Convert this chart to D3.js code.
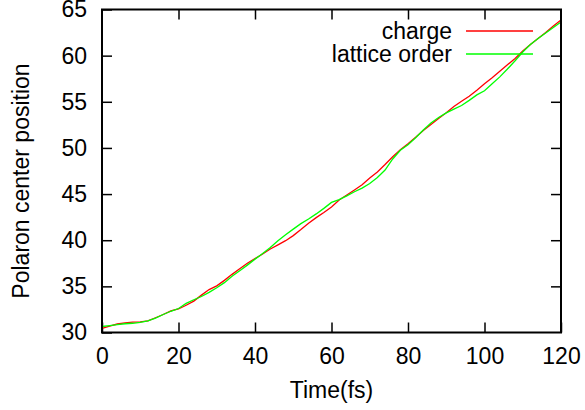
<!DOCTYPE html>
<html>
<head>
<meta charset="utf-8">
<script src="https://cdn.jsdelivr.net/npm/d3@7"></script>
<style>
  body { margin: 0; background: #fff; }
  text { font-family: "Liberation Sans", Arial, sans-serif; fill: #000; }
</style>
</head>
<body>
<svg width="585" height="410"></svg>
<script>
const svg = d3.select('svg');

// time (fs)
const times = [0, 2, 4, 6, 8, 10, 12, 14, 16, 18, 20, 22, 24, 26, 28, 30, 32, 34, 36, 38,
  40, 42, 44, 46, 48, 50, 52, 54, 56, 58, 60, 62, 64, 66, 68, 70, 72, 74, 76, 78,
  80, 82, 84, 86, 88, 90, 92, 94, 96, 98, 100, 102, 104, 106, 108, 110, 112, 114, 116, 118, 120];

const charge = [30.45, 30.7, 30.92, 31.05, 31.12, 31.15, 31.25, 31.6, 31.95, 32.35,
  32.55, 32.95, 33.4, 34.05, 34.65, 35.05, 35.65, 36.3, 36.9, 37.5,
  38.0, 38.5, 39.05, 39.5, 39.95, 40.5, 41.15, 41.85, 42.45, 43.0,
  43.6, 44.35, 44.9, 45.45, 46.0, 46.75, 47.4, 48.2, 49.05, 49.8,
  50.45, 51.15, 51.9, 52.55, 53.2, 53.8, 54.5, 55.05, 55.6, 56.25,
  56.95, 57.6, 58.3, 59.0, 59.7, 60.5, 61.2, 61.85, 62.5, 63.2, 63.85];

const lattice = [30.65, 30.75, 30.85, 30.95, 31.0, 31.1, 31.25, 31.55, 31.95, 32.3,
  32.6, 33.15, 33.55, 33.9, 34.35, 34.85, 35.4, 36.1, 36.7, 37.3,
  37.95, 38.55, 39.2, 39.95, 40.6, 41.2, 41.8, 42.3, 42.85, 43.45,
  44.1, 44.4, 44.8, 45.25, 45.65, 46.15, 46.8, 47.6, 48.8, 49.75,
  50.35, 51.1, 51.95, 52.7, 53.3, 53.8, 54.2, 54.6, 55.15, 55.75,
  56.2, 56.95, 57.7, 58.55, 59.45, 60.4, 61.2, 61.85, 62.45, 63.05, 63.65];

const xTicks = [0, 20, 40, 60, 80, 100, 120];
const yTicks = [30, 35, 40, 45, 50, 55, 60, 65];

const seriesNames = ['charge', 'lattice order'];
const seriesColors = ['#ff0000', '#00ff00'];

const plotLeft = 102, plotRight = 561, plotTop = 9.5, plotBottom = 332.5;
const fontSize = 23;

const x = d3.scaleLinear().domain([0, 120]).range([plotLeft, plotRight]);
const y = d3.scaleLinear().domain([30, 65]).range([plotBottom, plotTop]);

// axes, ticks pointing inward, mirrored on top/right
const tickLen = 10;
svg.append('g')
    .attr('transform', `translate(0,${plotBottom})`)
    .call(d3.axisBottom(x).tickValues(xTicks).tickSizeInner(-tickLen).tickSizeOuter(0).tickPadding(15))
    .call(g => g.select('.domain').remove());
svg.append('g')
    .attr('transform', `translate(0,${plotTop})`)
    .call(d3.axisTop(x).tickValues(xTicks.slice(1, -1)).tickSizeInner(-tickLen).tickSizeOuter(0).tickFormat(''))
    .call(g => g.select('.domain').remove());
svg.append('g')
    .attr('transform', `translate(${plotLeft},0)`)
    .call(d3.axisLeft(y).tickValues(yTicks).tickSizeInner(-tickLen).tickSizeOuter(0).tickPadding(15))
    .call(g => g.select('.domain').remove());
svg.append('g')
    .attr('transform', `translate(${plotRight},0)`)
    .call(d3.axisRight(y).tickValues(yTicks.slice(1, -1)).tickSizeInner(-tickLen).tickSizeOuter(0).tickFormat(''))
    .call(g => g.select('.domain').remove());

svg.selectAll('.tick line').attr('stroke', '#000').attr('stroke-width', 1.5);
svg.selectAll('.tick text')
    .style('font-family', '"Liberation Sans", Arial, sans-serif')
    .style('font-size', fontSize + 'px')
    .attr('fill', '#000');

// lines
const data = [charge, lattice];
const line = d3.line()
    .x((d, i) => x(times[i]))
    .y(d => y(d));

svg.selectAll('path.series').data(data)
    .enter().append('path')
    .attr('class', 'series')
    .attr('d', line)
    .attr('fill', 'none')
    .attr('stroke', (d, i) => seriesColors[i])
    .attr('stroke-width', 1.3);

// frame
svg.append('rect')
    .attr('x', plotLeft).attr('y', plotTop)
    .attr('width', plotRight - plotLeft).attr('height', plotBottom - plotTop)
    .attr('fill', 'none').attr('stroke', '#000').attr('stroke-width', 2);

// legend
const legend = svg.append('g');
seriesNames.forEach((name, i) => {
    const ly = 31 + i * 23;
    legend.append('text')
        .attr('x', 452).attr('y', ly)
        .attr('dy', '0.35em')
        .attr('text-anchor', 'end')
        .style('font-size', fontSize + 'px')
        .text(name);
    legend.append('line')
        .attr('x1', 466).attr('x2', 533)
        .attr('y1', ly).attr('y2', ly)
        .attr('stroke', seriesColors[i])
        .attr('stroke-width', 1.5);
});

// axis labels
svg.append('text')
    .attr('x', (plotLeft + plotRight) / 2).attr('y', 398)
    .attr('text-anchor', 'middle')
    .style('font-size', fontSize + 'px')
    .text('Time(fs)');

svg.append('text')
    .attr('transform', `translate(29,${(plotTop + plotBottom) / 2 + 10}) rotate(-90)`)
    .attr('text-anchor', 'middle')
    .style('font-size', fontSize + 'px')
    .text('Polaron center position');
</script>
</body>
</html>
